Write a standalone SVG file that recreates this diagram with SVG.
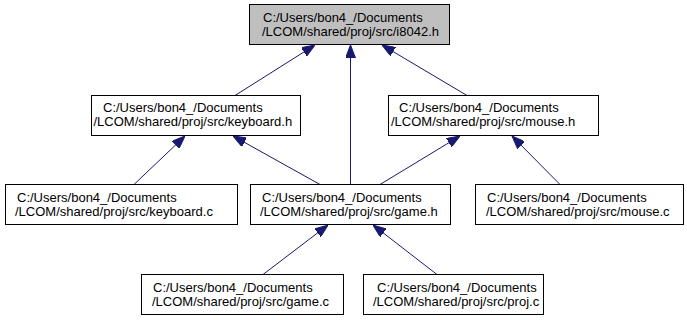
<svg xmlns="http://www.w3.org/2000/svg" width="687" height="320" viewBox="0 0 687 320">
  <style>
    .box { fill: #ffffff; stroke: #000000; stroke-width: 1; }
    .root { fill: #bfbfbf; }
    .lbl { font-family: "Liberation Sans", Arial, sans-serif; font-size: 13px; fill: #000000; }
    .edge { stroke: #191970; stroke-width: 1; fill: none; marker-end: url(#arrow); }
  </style>
  <defs>
    <marker id="arrow" viewBox="0 -5 13 10" refX="13" refY="0" markerWidth="13" markerHeight="10" markerUnits="userSpaceOnUse" orient="auto">
      <path d="M0,-5 L13,0 L0,5 Z" fill="#191970" stroke="#191970" stroke-width="1"/>
    </marker>
  </defs>
  <rect width="687" height="320" fill="#ffffff"/>

  <!-- include dependency edges -->
  <g id="edges">
    <line class="edge" x1="235" y1="95.5" x2="315" y2="45"/>
    <line class="edge" x1="350.5" y1="184.5" x2="350.5" y2="45"/>
    <line class="edge" x1="467" y1="95.5" x2="382" y2="45"/>
    <line class="edge" x1="134" y1="184.5" x2="185" y2="136"/>
    <line class="edge" x1="320" y1="184.5" x2="233" y2="136"/>
    <line class="edge" x1="380" y1="184.5" x2="460" y2="136"/>
    <line class="edge" x1="560" y1="184.5" x2="512" y2="136"/>
    <line class="edge" x1="263" y1="274.5" x2="328" y2="225"/>
    <line class="edge" x1="437" y1="274.5" x2="373" y2="225"/>
  </g>

  <g id="i8042_h">
    <rect class="box root" x="249.5" y="4.5" width="200" height="40"/>
    <text class="lbl" x="263" y="21.5">C:/Users/bon4_/Documents</text>
    <text class="lbl" x="262" y="35.5">/LCOM/shared/proj/src/i8042.h</text>
  </g>

  <g id="keyboard_h">
    <rect class="box" x="91.5" y="95.5" width="209" height="40"/>
    <text class="lbl" x="103" y="112">C:/Users/bon4_/Documents</text>
    <text class="lbl" x="93.5" y="126">/LCOM/shared/proj/src/keyboard.h</text>
  </g>

  <g id="mouse_h">
    <rect class="box" x="388.5" y="95.5" width="210" height="40"/>
    <text class="lbl" x="399" y="112">C:/Users/bon4_/Documents</text>
    <text class="lbl" x="391" y="126">/LCOM/shared/proj/src/mouse.h</text>
  </g>

  <g id="keyboard_c">
    <rect class="box" x="5.5" y="184.5" width="232" height="40"/>
    <text class="lbl" x="17" y="201.5">C:/Users/bon4_/Documents</text>
    <text class="lbl" x="15" y="215.5">/LCOM/shared/proj/src/keyboard.c</text>
  </g>

  <g id="game_h">
    <rect class="box" x="250.5" y="184.5" width="200" height="40"/>
    <text class="lbl" x="262" y="201.5">C:/Users/bon4_/Documents</text>
    <text class="lbl" x="260" y="215.5">/LCOM/shared/proj/src/game.h</text>
  </g>

  <g id="mouse_c">
    <rect class="box" x="475.5" y="184.5" width="208" height="40"/>
    <text class="lbl" x="487" y="201.5">C:/Users/bon4_/Documents</text>
    <text class="lbl" x="486" y="215.5">/LCOM/shared/proj/src/mouse.c</text>
  </g>

  <g id="game_c">
    <rect class="box" x="141.5" y="274.5" width="202" height="40"/>
    <text class="lbl" x="153" y="291.5">C:/Users/bon4_/Documents</text>
    <text class="lbl" x="152" y="305.5">/LCOM/shared/proj/src/game.c</text>
  </g>

  <g id="proj_c">
    <rect class="box" x="363.5" y="274.5" width="180" height="40"/>
    <text class="lbl" x="377" y="291.5">C:/Users/bon4_/Documents</text>
    <text class="lbl" x="373" y="305.5">/LCOM/shared/proj/src/proj.c</text>
  </g>
</svg>
